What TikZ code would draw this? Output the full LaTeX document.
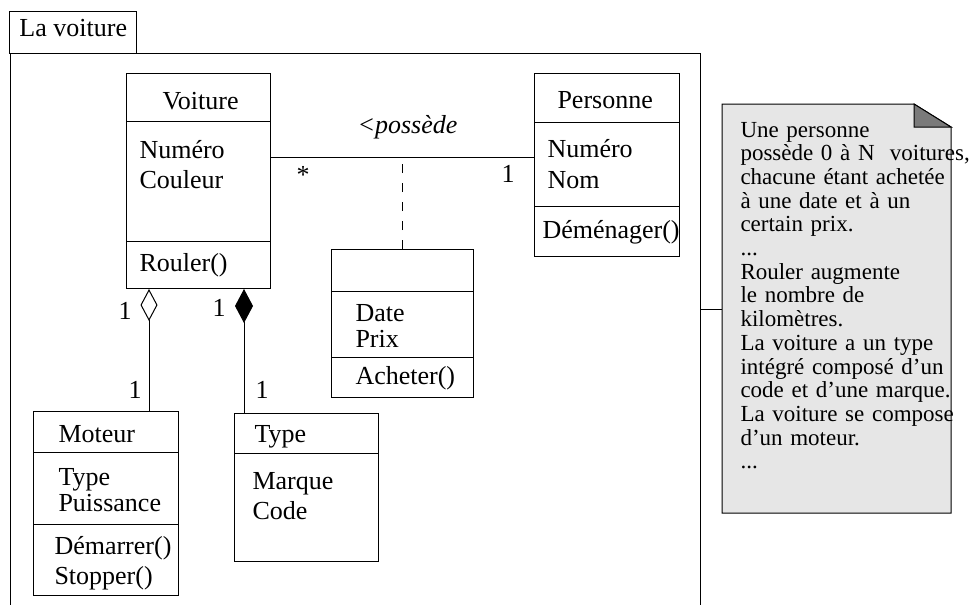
\documentclass[tikz,border=0pt]{standalone}
\usepackage{fontspec}
\setmainfont{Liberation Serif}
\usetikzlibrary{arrows.meta}
\definecolor{notefill}{HTML}{E6E6E6}
\definecolor{folddark}{HTML}{7A7A7A}
\begin{document}
\begin{tikzpicture}[x=1pt,y=-1pt,line width=1pt,
  box/.style={draw,anchor=north west,inner sep=0pt},
  txt/.style={anchor=base west,inner sep=0pt,font=\fontsize{26}{30}\selectfont},
  lines/.style={anchor=base west,inner sep=0pt,text width=160pt,align=left,font=\fontsize{26}{#1}\selectfont},
  notetxt/.style={anchor=base west,inner sep=0pt,text width=270pt,align=left,font=\fontsize{23}{23.7}\selectfont},
  aggr/.style={{Diamond[open,length=32pt,width=17pt]}-},
  comp/.style={{Diamond[length=34pt,width=18pt]}-}]
\useasboundingbox (0,0) rectangle (970,605);

% package
\node[box,minimum width=690pt,minimum height=580pt] (pk) at (10,53) {};
\node[box,minimum width=127pt,minimum height=42pt] (tab) at (9,11) {};
\node[txt] (tabt) at (19,36) {La voiture};

% Voiture
\node[box,minimum width=144pt,minimum height=215pt] (vo) at (126,73) {};
\draw (vo.west |- 0,121) -- (vo.east |- 0,121);
\draw (vo.west |- 0,241) -- (vo.east |- 0,241);
\node[txt] (vot) at (162,109) {Voiture};
\node[lines=30] (voa) at (139,158) {Numéro\\Couleur};
\node[txt] (voo) at (139,271) {Rouler()};

% Personne
\node[box,minimum width=145pt,minimum height=183pt] (pe) at (534,73) {};
\draw (pe.west |- 0,122) -- (pe.east |- 0,122);
\draw (pe.west |- 0,206) -- (pe.east |- 0,206);
\node[txt] (pet) at (557,108) {Personne};
\node[lines=31] (pea) at (547,157) {Numéro\\Nom};
\node[txt] (peo) at (542,238) {Déménager()};

% association class
\node[box,minimum width=142pt,minimum height=148pt] (ac) at (331,249) {};
\draw (ac.west |- 0,291) -- (ac.east |- 0,291);
\draw (ac.west |- 0,357) -- (ac.east |- 0,357);
\node[lines=26] (aca) at (355,321) {Date\\Prix};
\node[txt] (aco) at (355,384) {Acheter()};

% Moteur
\node[box,minimum width=145pt,minimum height=184pt] (mo) at (33,411) {};
\draw (mo.west |- 0,452) -- (mo.east |- 0,452);
\draw (mo.west |- 0,524) -- (mo.east |- 0,524);
\node[txt] (mot) at (58,442) {Moteur};
\node[lines=26] (moa) at (58,485) {Type\\Puissance};
\node[lines=30] (moo) at (54,554) {Démarrer()\\Stopper()};

% Type
\node[box,minimum width=144pt,minimum height=148pt] (ty) at (234,413) {};
\draw (ty.west |- 0,453) -- (ty.east |- 0,453);
\node[txt] (tyt) at (254,442) {Type};
\node[lines=30] (tya) at (252,489) {Marque\\Code};

% association
\draw (vo.east |- 0,157) -- (pe.west |- 0,157);
\node[txt,font=\fontsize{26}{30}\selectfont\itshape] (asl) at (357,133) {<possède};
\node[txt] (m1) at (296,183) {*};
\node[txt] (m2) at (501,182) {1};
\draw[dash pattern=on 9pt off 10pt] (ac.north) -- (ac.north |- 0,157);

% aggregation / composition
\coordinate (ag) at ([xshift=23pt]vo.south west);
\draw[aggr] (ag) -- (ag |- mo.north);
\coordinate (cp) at ([xshift=-27pt]vo.south east);
\draw[comp] (cp) -- (cp |- ty.north);
\node[txt] (m3) at (118,319) {1};
\node[txt] (m4) at (212,316) {1};
\node[txt] (m5) at (128,398) {1};
\node[txt] (m6) at (255,398) {1};

% note
\node[anchor=north west,inner sep=0pt,minimum width=228pt,minimum height=408pt] (nt) at (722,104) {};
\filldraw[fill=notefill] (nt.north west) -- ([xshift=-37pt]nt.north east) -- ([yshift=-23pt]nt.north east) -- (nt.south east) -- (nt.south west) -- cycle;
\filldraw[fill=folddark] ([xshift=-37pt]nt.north east) -- ([yshift=-23pt]nt.north east) -- ([xshift=-37pt,yshift=-23pt]nt.north east) -- cycle;
\node[notetxt] (ntx) at (740,137) {Une personne\\possède 0 à N~~voitures,\\chacune étant achetée\\à une date et à un\\certain prix.\\...\\Rouler augmente\\le nombre de\\kilomètres.\\La voiture a un type\\intégré composé d’un\\code et d’une marque.\\La voiture se compose\\d’un moteur.\\...};
\draw (pk.east |- 0,309) -- (nt.west |- 0,309);
\end{tikzpicture}
\end{document}
